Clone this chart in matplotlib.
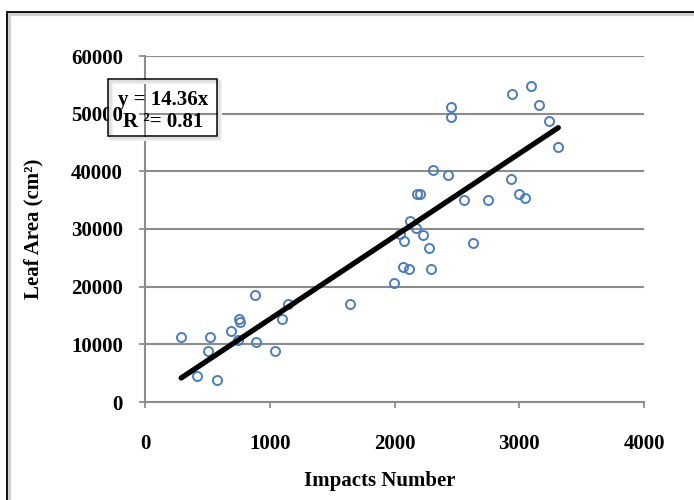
import matplotlib
matplotlib.use("Agg")
import matplotlib.pyplot as plt
from matplotlib.patches import Rectangle

# --- data ---
impacts = [290, 418, 507, 523, 580, 692, 748, 757, 765, 885, 893, 1046, 1095,
           1143, 1642, 1998, 2044, 2068, 2079, 2117, 2127, 2176, 2181, 2208,
           2229, 2280, 2296, 2307, 2428, 2455, 2455, 2557, 2629, 2750, 2932,
           2943, 3000, 3048, 3096, 3157, 3235, 3313]
leaf_area = [11300, 4520, 8870, 11300, 3830, 12350, 10780, 14430, 13900, 18600,
             10430, 8870, 14430, 17040, 17040, 20640, 29160, 23360, 27880, 23070,
             31360, 30200, 36050, 36120, 28990, 26730, 23010, 40230, 39360, 51190,
             49340, 34960, 27650, 35000, 38660, 53440, 36050, 35300, 54840, 51530,
             48700, 44170]
slope = 14.36
r2 = 0.81
x_ticks = [0, 1000, 2000, 3000, 4000]
y_ticks = [0, 10000, 20000, 30000, 40000, 50000, 60000]

plt.rcParams['font.family'] = ['Liberation Serif', 'DejaVu Serif']
plt.rcParams['font.weight'] = 'bold'

W, H = 694, 500
fig = plt.figure(figsize=(W / 100, H / 100), dpi=100)
ax = fig.add_axes([145 / W, 1 - 402 / H, (644 - 145) / W, (402 - 56) / H])

grey = '#8c8c8c'

# scatter points (open circles)
ax.plot(impacts, leaf_area, linestyle='none', marker='o', markersize=6.5,
        markerfacecolor='none', markeredgecolor='#4a7ebb', markeredgewidth=1.4,
        zorder=3)

# trend line y = 14.36x
x0, x1 = min(impacts), max(impacts)
ax.plot([x0, x1], [slope * x0, slope * x1], color='black', lw=3.8,
        solid_capstyle='round', zorder=4)

ax.set_xlim(0, 4000)
ax.set_ylim(0, 60000)
ax.set_xticks(x_ticks)
ax.set_yticks(y_ticks)
ax.set_xticklabels([str(t) for t in x_ticks], fontsize=15, fontweight='bold')
ax.set_yticklabels([str(t) for t in y_ticks], fontsize=15, fontweight='bold')
ax.tick_params(axis='x', direction='out', length=4, width=1.3, color=grey, pad=19)
ax.tick_params(axis='y', direction='out', length=4, width=1.3, color=grey, pad=12)

for side in ['top', 'right']:
    ax.spines[side].set_visible(False)
for side in ['left', 'bottom']:
    ax.spines[side].set_color(grey)
    ax.spines[side].set_linewidth(1.5)

ax.yaxis.grid(True, color=grey, lw=1.5)
ax.set_axisbelow(True)

fig.text(380 / W, 1 - 481 / H, 'Impacts Number', fontsize=15, fontweight='bold',
         ha='center', va='center')
fig.text(33 / W, 1 - 229 / H, 'Leaf Area (cm²)', fontsize=15,
         fontweight='bold', rotation=90, ha='center', va='center')

# equation box with a soft shadow outline
bx0, by0, bx1, by1 = 108, 79, 217, 136
for k, c in [(4, '#f2f2f2'), (3, '#e8e8e8'), (2, '#dedede')]:
    fig.patches.append(Rectangle(((bx0 + k) / W, 1 - (by1 + k) / H),
                                 (bx1 - bx0) / W, (by1 - by0) / H,
                                 transform=fig.transFigure, facecolor='none',
                                 edgecolor=c, lw=1.5, zorder=5))
fig.patches.append(Rectangle((bx0 / W, 1 - by1 / H), (bx1 - bx0) / W,
                             (by1 - by0) / H, transform=fig.transFigure,
                             facecolor='none', edgecolor='black', lw=1.1, zorder=6))
fig.text(163 / W, 1 - 100 / H, f'y = {slope:.2f}x', fontsize=15, fontweight='bold',
         ha='center', va='center', zorder=7)
fig.text(163 / W, 1 - 122 / H, f'R ²= {r2:.2f}', fontsize=15, fontweight='bold',
         ha='center', va='center', zorder=7)

# outer chart frame (runs off the right and bottom edges)
fig.patches.append(Rectangle((9 / W, -0.1), 1.2, 1.1 - 14 / H,
                             transform=fig.transFigure, facecolor='none',
                             edgecolor='#d0d0d0', lw=3, zorder=1))
fig.patches.append(Rectangle((7 / W, -0.1), 1.2, 1.1 - 12 / H,
                             transform=fig.transFigure, facecolor='none',
                             edgecolor='black', lw=1.3, zorder=2))

fig.savefig('out.png', dpi=100)
